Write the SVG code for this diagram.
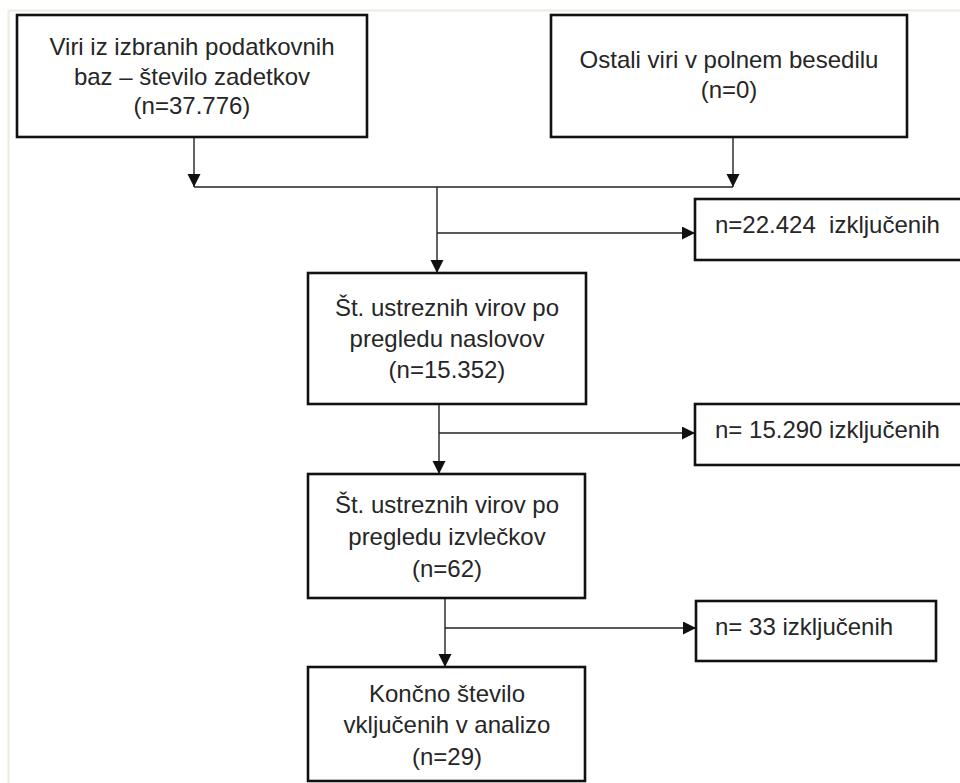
<svg xmlns="http://www.w3.org/2000/svg" width="960" height="783" viewBox="0 0 960 783">
<style>
.box{fill:#fff;stroke:#111;stroke-width:2.6}
.t{font-family:"Liberation Sans",Arial,sans-serif;font-size:24px;fill:#262626}
.c{text-anchor:middle}
.con{fill:none;stroke:#222;stroke-width:1.4}
.pg{fill:none;stroke:#eeeadf;stroke-width:2}
</style>
<defs>
<marker id="ah" markerUnits="userSpaceOnUse" markerWidth="14" markerHeight="14" refX="13" refY="6.5" orient="auto">
<path d="M0,0 L13,6.5 L0,13 Z" fill="#111"/>
</marker>
</defs>
<rect width="960" height="783" fill="#fff"/>
<path class="pg" d="M8.5,783 V10.5 H960"/>
<g id="connectors">
<path class="con" d="M194,137 V187" marker-end="url(#ah)"/>
<path class="con" d="M733,137 V187" marker-end="url(#ah)"/>
<path class="con" d="M194,187 H733"/>
<path class="con" d="M437,187 V273" marker-end="url(#ah)"/>
<path class="con" d="M437,233 H695" marker-end="url(#ah)"/>
<path class="con" d="M439,404 V474" marker-end="url(#ah)"/>
<path class="con" d="M439,433 H695" marker-end="url(#ah)"/>
<path class="con" d="M445,598 V667" marker-end="url(#ah)"/>
<path class="con" d="M445,628 H696" marker-end="url(#ah)"/>
</g>
<g id="n1">
<rect class="box" x="17" y="15" width="350" height="122"/>
<text class="t c" x="192" y="55">Viri iz izbranih podatkovnih</text>
<text class="t c" x="192" y="85">baz – število zadetkov</text>
<text class="t c" x="192" y="114">(n=37.776)</text>
</g>
<g id="n2">
<rect class="box" x="551" y="15" width="356" height="122"/>
<text class="t c" x="729" y="68">Ostali viri v polnem besedilu</text>
<text class="t c" x="729" y="98">(n=0)</text>
</g>
<g id="n3">
<rect class="box" x="308" y="273" width="278" height="131"/>
<text class="t c" x="447" y="316">Št. ustreznih virov po</text>
<text class="t c" x="447" y="347">pregledu naslovov</text>
<text class="t c" x="447" y="378">(n=15.352)</text>
</g>
<g id="n4">
<rect class="box" x="695" y="199" width="280" height="61"/>
<text class="t" x="715" y="233" xml:space="preserve">n=22.424  izključenih</text>
</g>
<g id="n5">
<rect class="box" x="695" y="404" width="280" height="61"/>
<text class="t" x="715" y="438">n= 15.290 izključenih</text>
</g>
<g id="n6">
<rect class="box" x="308" y="474" width="277" height="124"/>
<text class="t c" x="447" y="513">Št. ustreznih virov po</text>
<text class="t c" x="447" y="545">pregledu izvlečkov</text>
<text class="t c" x="447" y="577">(n=62)</text>
</g>
<g id="n8">
<rect class="box" x="696" y="601" width="240" height="60"/>
<text class="t" x="715" y="635">n= 33 izključenih</text>
</g>
<g id="n7">
<rect class="box" x="308" y="667" width="277" height="114"/>
<text class="t c" x="447" y="702">Končno število</text>
<text class="t c" x="447" y="733">vključenih v analizo</text>
<text class="t c" x="447" y="765">(n=29)</text>
</g>
</svg>
